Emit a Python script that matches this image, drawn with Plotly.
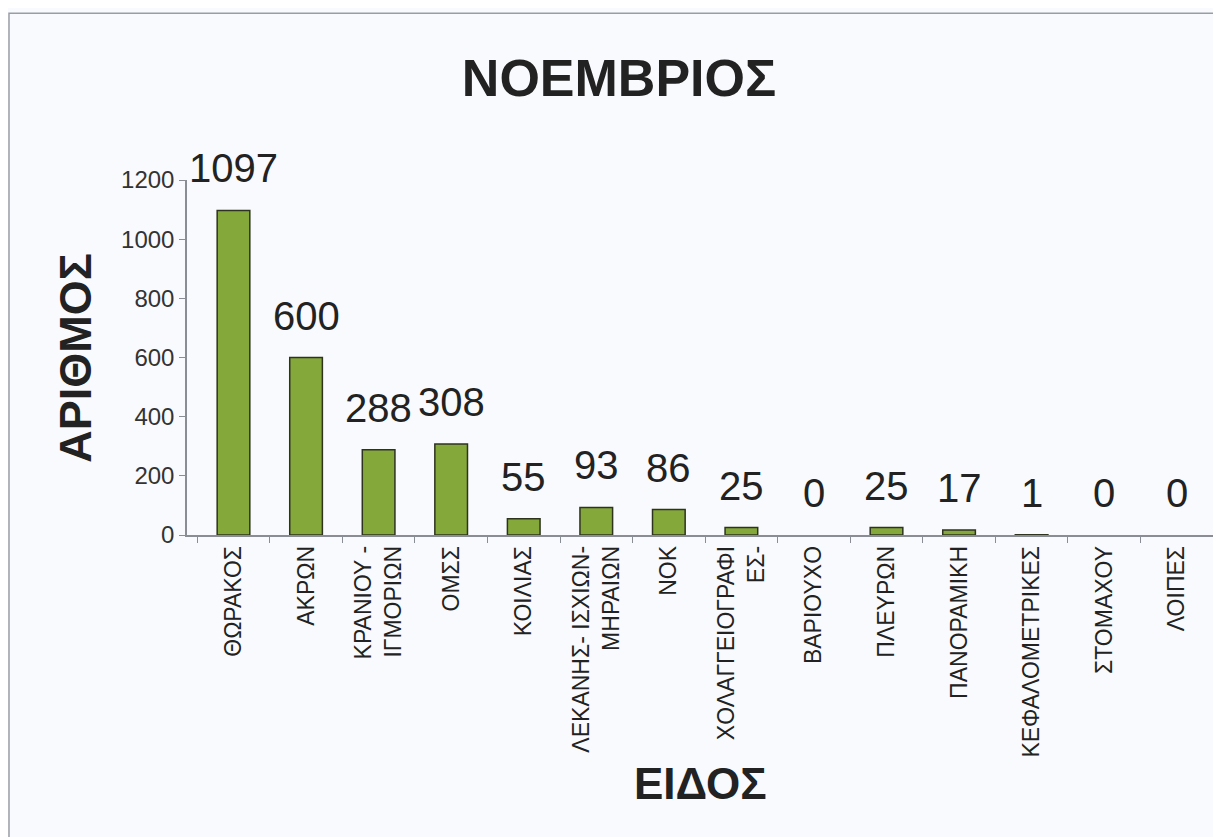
import plotly.graph_objects as go

categories = ["ΘΩΡΑΚΟΣ", "ΑΚΡΩΝ", "ΚΡΑΝΙΟΥ -<br>ΙΓΜΟΡΙΩΝ", "ΟΜΣΣ", "ΚΟΙΛΙΑΣ",
              "ΛΕΚΑΝΗΣ- ΙΣΧΙΩΝ-<br>ΜΗΡΑΙΩΝ", "ΝΟΚ", "ΧΟΛΑΓΓΕΙΟΓΡΑΦΙ<br>ΕΣ-",
              "ΒΑΡΙΟΥΧΟ", "ΠΛΕΥΡΩΝ", "ΠΑΝΟΡΑΜΙΚΗ", "ΚΕΦΑΛΟΜΕΤΡΙΚΕΣ",
              "ΣΤΟΜΑΧΟΥ", "ΛΟΙΠΕΣ"]
values = [1097, 600, 288, 308, 55, 93, 86, 25, 0, 25, 17, 1, 0, 0]
y_ticks = [0, 200, 400, 600, 800, 1000, 1200]

FONT = "Liberation Sans, Arial, sans-serif"
BG = "#f8fafd"

fig = go.Figure()
fig.add_trace(go.Bar(
    x=categories, y=values,
    marker=dict(color="#84a83a",
                line=dict(color="#2e3320",
                          width=[1.5 if v > 0 else 0 for v in values])),
    width=0.45,
    hoverinfo="x+y",
))

for c, v in zip(categories, values):
    fig.add_annotation(x=c, y=v, xref="x", yref="y", text=str(v),
                       showarrow=False, yanchor="bottom", yshift=18,
                       font=dict(family=FONT, size=40, color="#222222"))

# axis titles
fig.add_annotation(xref="paper", yref="paper", x=-0.109, y=0.5,
                   xanchor="center", yanchor="middle",
                   text="<b>ΑΡΙΘΜΟΣ</b>", textangle=-90, showarrow=False,
                   font=dict(family=FONT, size=45, color="#222222"))
fig.add_annotation(xref="paper", yref="paper", x=0.5, y=-0.70,
                   xanchor="center", yanchor="middle",
                   text="<b>ΕΙΔΟΣ</b>", showarrow=False,
                   font=dict(family=FONT, size=44, color="#222222"))

# scan border
fig.add_shape(type="rect", xref="paper", yref="paper",
              x0=-0.1735, x1=1.05, y0=-0.9, y1=1.470,
              line=dict(color="#9a9ea4", width=1.5), layer="below")

fig.update_layout(
    width=1213, height=829,
    margin=dict(l=179, r=8, t=172, b=302),
    paper_bgcolor=BG, plot_bgcolor=BG,
    showlegend=False,
    title=dict(text="<b>ΝΟΕΜΒΡΙΟΣ</b>", x=611 / 1213, xanchor="center",
               y=1 - 70 / 829, yanchor="middle",
               font=dict(family=FONT, size=52, color="#222222")),
    font=dict(family=FONT, color="#333333"),
)
fig.update_xaxes(
    showline=True, linecolor="#8a8e94", linewidth=1.5,
    ticks="outside", tickson="boundaries", ticklen=6, tickcolor="#8a8e94",
    tickangle=-90, tickfont=dict(family=FONT, size=23, color="#222222"),
    showgrid=False, zeroline=False,
)
fig.update_yaxes(
    range=[0, 1200], tickvals=y_ticks,
    showline=True, linecolor="#8a8e94", linewidth=1.5,
    ticks="outside", ticklen=6, tickcolor="#8a8e94",
    tickfont=dict(family=FONT, size=24, color="#333333"),
    showgrid=False, zeroline=False,
)
fig.update_traces(cliponaxis=False)

fig.write_html("out.html")
